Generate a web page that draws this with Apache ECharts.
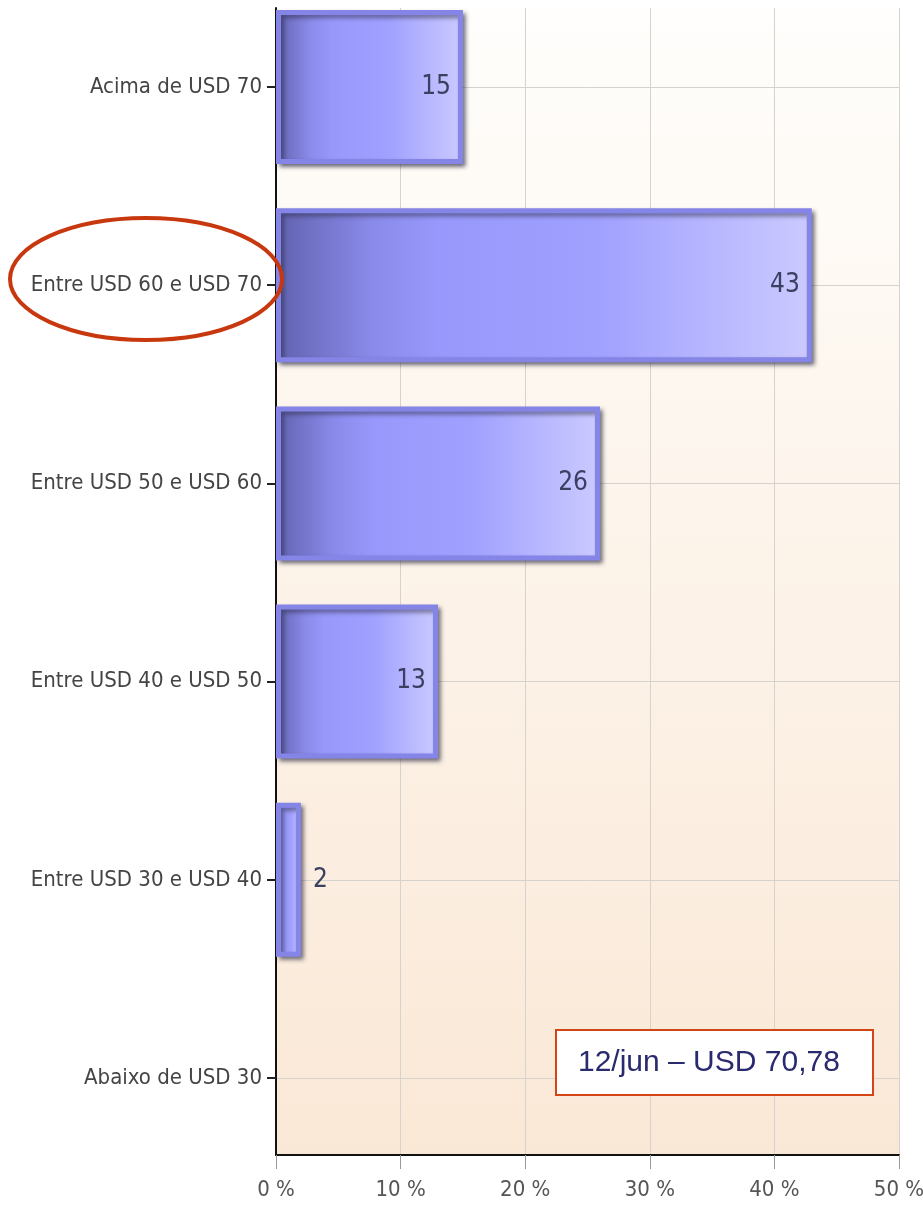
<!DOCTYPE html>
<html>
<head>
<meta charset="utf-8">
<script src="https://cdn.jsdelivr.net/npm/echarts@6/dist/echarts.min.js"></script>
<style>
  html, body { margin: 0; padding: 0; background: #fff; }
  #chart { width: 923px; height: 1217px; }
</style>
</head>
<body>
<div id="chart"></div>
<script>
// categories, top to bottom
const categories = [
  "Acima de USD 70",
  "Entre USD 60 e USD 70",
  "Entre USD 50 e USD 60",
  "Entre USD 40 e USD 50",
  "Entre USD 30 e USD 40",
  "Abaixo de USD 30"
];
// share of answers (%)
const shares = [15, 43, 26, 13, 2, 0];
// x axis ticks
const xTicks = [0, 10, 20, 30, 40, 50];
const note = "12/jun – USD 70,78";

const narrow = "'Liberation Sans Narrow', 'Arial Narrow', 'DejaVu Sans Condensed', sans-serif";

const chart = echarts.init(document.getElementById("chart"));

const barData = shares.map((v) => ({
  value: v,
  itemStyle: v > 0 ? {} : { opacity: 0 },
  label: {
    show: v > 0,
    position: v < 5 ? "right" : "insideRight",
    distance: v < 5 ? 12 : 12
  }
}));

chart.setOption({
  animation: false,
  grid: [
    // bars + category axis
    { left: 276, right: 24, top: 87, bottom: 139, show: false, outerBoundsMode: "none", containLabel: false },
    // full plot frame: background, vertical grid, x axis
    {
      left: 276, right: 24, top: 8, bottom: 62, show: true, borderWidth: 0,
      outerBoundsMode: "none", containLabel: false,
      backgroundColor: new echarts.graphic.LinearGradient(0, 0, 0, 1, [
        { offset: 0, color: "#fffefc" },
        { offset: 1, color: "#fae8d6" }
      ])
    }
  ],
  xAxis: [
    { gridIndex: 0, type: "value", min: xTicks[0], max: xTicks[xTicks.length - 1], show: false },
    {
      gridIndex: 1, type: "value",
      min: xTicks[0], max: xTicks[xTicks.length - 1], interval: 10,
      axisLine: { show: true, lineStyle: { color: "#111", width: 2 } },
      axisTick: { show: true, length: 14, lineStyle: { color: "#999" } },
      splitLine: { show: true, lineStyle: { color: "#d6d3cf" } },
      axisLabel: {
        formatter: "{value} %", color: "#555", fontSize: 22, fontFamily: narrow, margin: 24
      }
    }
  ],
  yAxis: [
    {
      gridIndex: 0, type: "category", data: categories, inverse: true, boundaryGap: false,
      axisLine: { show: false },
      axisTick: { show: true, length: 9, inside: false, lineStyle: { color: "#222", width: 2 } },
      splitLine: { show: true, lineStyle: { color: "#d6d3cf" } },
      axisLabel: { color: "#444", fontSize: 22, fontFamily: narrow, margin: 14 }
    },
    {
      gridIndex: 1, type: "value", min: 0, max: 1,
      axisLine: { show: true, lineStyle: { color: "#111", width: 2 } },
      axisTick: { show: false }, axisLabel: { show: false }, splitLine: { show: false }
    }
  ],
  series: [
    {
      type: "bar",
      xAxisIndex: 0, yAxisIndex: 0,
      data: barData,
      barWidth: 154,
      z: 3,
      itemStyle: {
        color: new echarts.graphic.LinearGradient(0, 0, 1, 0, [
          { offset: 0, color: "#6262b0" },
          { offset: 0.18, color: "#8a8aea" },
          { offset: 0.3, color: "#9898fc" },
          { offset: 0.6, color: "#a0a0ff" },
          { offset: 1, color: "#cbcaff" }
        ]),
        borderColor: "#8585e8",
        borderWidth: 5,
        shadowColor: "rgba(40,40,60,0.55)",
        shadowBlur: 4,
        shadowOffsetX: 3,
        shadowOffsetY: 3
      },
      label: {
        color: "#3b4060",
        fontSize: 26,
        fontFamily: narrow
      }
    }
  ],
  graphic: [
    {
      type: "ellipse",
      shape: { cx: 146, cy: 279, rx: 136, ry: 61 },
      style: { fill: null, stroke: "#c8380f", lineWidth: 4 },
      z: 10
    },
    {
      type: "rect",
      shape: { x: 556, y: 1030, width: 317, height: 65 },
      style: { fill: "#fff", stroke: "#d44515", lineWidth: 2 },
      z: 10
    },
    {
      type: "text",
      x: 578, y: 1063,
      style: {
        text: note, fill: "#2a2a6e", fontSize: 30,
        fontFamily: "'Liberation Sans', Arial, sans-serif",
        verticalAlign: "middle"
      },
      z: 11
    }
  ]
});
</script>
</body>
</html>
